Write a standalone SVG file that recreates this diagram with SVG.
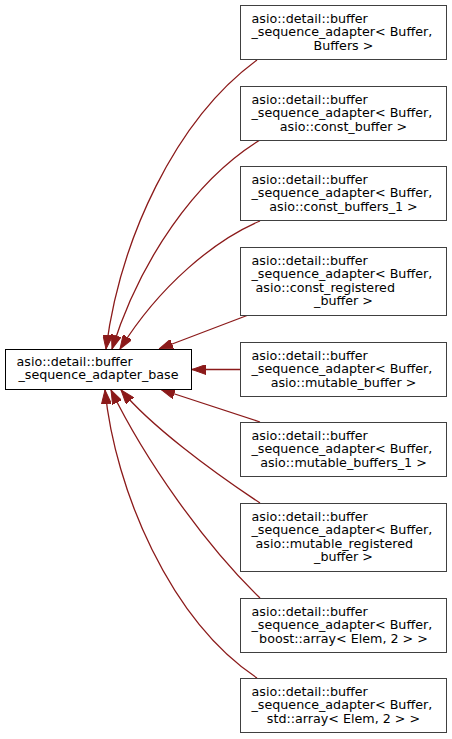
<svg xmlns="http://www.w3.org/2000/svg" width="452" height="739" viewBox="0 0 452 739">
<defs>
<style>
.n rect{fill:#ffffff;stroke:#404040;stroke-width:1}
.base rect{fill:#ffffff;stroke:#000000;stroke-width:1}
text{font-family:"DejaVu Sans","Liberation Sans",sans-serif;font-size:12.7px;fill:#000000}
.c{text-anchor:middle}
.e path{fill:none;stroke:#8b1a1a;stroke-width:1.3;marker-end:url(#ah)}
</style>
<marker id="ah" markerUnits="userSpaceOnUse" viewBox="0 0 14 10" refX="14" refY="5" markerWidth="14" markerHeight="10" orient="auto">
<path d="M0,0 L14,5 L0,10 z" fill="#8b1a1a" stroke="#8b1a1a" stroke-width="1"/>
</marker>
</defs>
<rect width="452" height="739" fill="#ffffff"/>
<g id="connectors" class="e">
<path d="M257,60 C175,120 120,240 106,349"/>
<path d="M260,140 C195,180 140,260 112,349"/>
<path d="M260,221 C215,240 160,285 120,349"/>
<path d="M247,315.5 L159,349"/>
<path d="M240.5,369.5 L192,369.5"/>
<path d="M260,422 L161,389.5"/>
<path d="M260,503 C210,470 150,425 121,390"/>
<path d="M260,598 C205,545 145,460 111,390"/>
<path d="M257,678 C170,620 115,490 105,390"/>
</g>
<g id="base" class="base">
<rect x="5.5" y="349.5" width="186" height="40"/>
<text x="16.5" y="366">asio::detail::buffer</text>
<text class="c" x="98.5" y="379.4">_sequence_adapter_base</text>
</g>
<g id="node1" class="n">
<rect x="240.5" y="5.5" width="206" height="54"/>
<text x="251.5" y="23">asio::detail::buffer</text>
<text x="251.5" y="36.4">_sequence_adapter&lt; Buffer,</text>
<text class="c" x="343.5" y="49.8">Buffers &gt;</text>
</g>
<g id="node2" class="n">
<rect x="240.5" y="86.5" width="206" height="54"/>
<text x="251.5" y="104">asio::detail::buffer</text>
<text x="251.5" y="117.4">_sequence_adapter&lt; Buffer,</text>
<text class="c" x="343.5" y="130.8">asio::const_buffer &gt;</text>
</g>
<g id="node3" class="n">
<rect x="240.5" y="166.5" width="206" height="54"/>
<text x="251.5" y="184">asio::detail::buffer</text>
<text x="251.5" y="197.4">_sequence_adapter&lt; Buffer,</text>
<text class="c" x="343.5" y="210.8">asio::const_buffers_1 &gt;</text>
</g>
<g id="node4" class="n">
<rect x="240.5" y="247.5" width="206" height="68"/>
<text x="251.5" y="265">asio::detail::buffer</text>
<text x="251.5" y="278.4">_sequence_adapter&lt; Buffer,</text>
<text x="255.5" y="291.8">asio::const_registered</text>
<text class="c" x="343.5" y="305.2">_buffer &gt;</text>
</g>
<g id="node5" class="n">
<rect x="240.5" y="342.5" width="206" height="54"/>
<text x="251.5" y="360">asio::detail::buffer</text>
<text x="251.5" y="373.4">_sequence_adapter&lt; Buffer,</text>
<text class="c" x="343.5" y="386.8">asio::mutable_buffer &gt;</text>
</g>
<g id="node6" class="n">
<rect x="240.5" y="422.5" width="206" height="54"/>
<text x="251.5" y="440">asio::detail::buffer</text>
<text x="251.5" y="453.4">_sequence_adapter&lt; Buffer,</text>
<text class="c" x="343.5" y="466.8">asio::mutable_buffers_1 &gt;</text>
</g>
<g id="node7" class="n">
<rect x="240.5" y="503.5" width="206" height="68"/>
<text x="251.5" y="521">asio::detail::buffer</text>
<text x="251.5" y="534.4">_sequence_adapter&lt; Buffer,</text>
<text x="255.5" y="547.8">asio::mutable_registered</text>
<text class="c" x="343.5" y="561.2">_buffer &gt;</text>
</g>
<g id="node8" class="n">
<rect x="240.5" y="598.5" width="206" height="54"/>
<text x="251.5" y="616">asio::detail::buffer</text>
<text x="251.5" y="629.4">_sequence_adapter&lt; Buffer,</text>
<text class="c" x="343.5" y="642.8">boost::array&lt; Elem, 2 &gt; &gt;</text>
</g>
<g id="node9" class="n">
<rect x="240.5" y="678.5" width="206" height="54"/>
<text x="251.5" y="696">asio::detail::buffer</text>
<text x="251.5" y="709.4">_sequence_adapter&lt; Buffer,</text>
<text class="c" x="343.5" y="722.8">std::array&lt; Elem, 2 &gt; &gt;</text>
</g>
</svg>
